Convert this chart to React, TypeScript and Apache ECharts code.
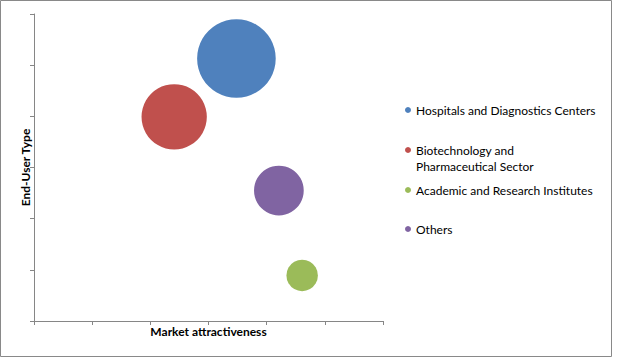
import React, { useEffect, useRef } from "react";
import * as echarts from "echarts";

const seriesNames = [
  "Hospitals and Diagnostics Centers",
  "Biotechnology and Pharmaceutical Sector",
  "Academic and Research Institutes",
  "Others",
];
const marketAttractiveness = [3.48, 2.41, 4.61, 4.21];
const endUserType = [5.13, 3.99, 0.89, 2.55];
const bubbleSize = [100, 69, 16, 40];
const colors = ["#4F81BD", "#C0504D", "#9BBB59", "#8064A2"];
const legendTops = [102, 126, 182, 221];
const legendLabels = [
  "Hospitals and Diagnostics Centers",
  " \nBiotechnology and\nPharmaceutical Sector",
  "Academic and Research Institutes",
  "Others",
];

const FONT = "Lato, 'Noto Sans', sans-serif";
const AXIS_COLOR = "#868686";

export default function App() {
  const ref = useRef<HTMLDivElement>(null);
  useEffect(() => {
    if (!ref.current) return;
    const chart = echarts.init(ref.current, null, { renderer: "svg" });
    const axisCommon = {
      type: "value",
      min: 0,
      max: 6,
      interval: 1,
      axisLine: { show: true, lineStyle: { color: AXIS_COLOR, width: 1 } },
      axisTick: { show: true, inside: false, length: 4, lineStyle: { color: AXIS_COLOR } },
      axisLabel: { show: false },
      splitLine: { show: false },
      nameLocation: "middle",
      nameTextStyle: { fontFamily: FONT, fontSize: 12, fontWeight: "bold", color: "#000" },
    };
    chart.setOption({
      animation: false,
      backgroundColor: "#fff",
      grid: { left: 34, top: 14, width: 349, height: 307, containLabel: false },
      xAxis: { ...axisCommon, name: "Market attractiveness", nameGap: 4 },
      yAxis: { ...axisCommon, name: "End-User Type", nameGap: 3 },
      legend: seriesNames.map((n, i) => ({
        data: [n],
        orient: "vertical",
        left: 405,
        top: legendTops[i],
        padding: 0,
        icon: "circle",
        itemWidth: 6,
        itemHeight: 6,
        selectedMode: false,
        formatter: () => legendLabels[i],
        textStyle: {
          fontFamily: FONT,
          fontSize: 12,
          color: "#000",
          lineHeight: 16,
        },
      })),
      graphic: [
        {
          type: "rect",
          shape: { x: 0.5, y: 0.5, width: 611, height: 356 },
          style: { fill: "none", stroke: "#898989", lineWidth: 1 },
          silent: true,
          z: 100,
        },
      ],
      series: seriesNames.map((n, i) => ({
        name: n,
        type: "scatter",
        data: [[marketAttractiveness[i], endUserType[i], bubbleSize[i]]],
        symbolSize: (d: number[]) => Math.sqrt(d[2]) * 7.86,
        itemStyle: { color: colors[i], opacity: 1 },
        emphasis: { disabled: true },
      })),
    });
    return () => chart.dispose();
  }, []);
  return (
    <div
      ref={ref}
      style={{ position: "fixed", left: 0, top: 0, width: 617, height: 362 }}
    />
  );
}
